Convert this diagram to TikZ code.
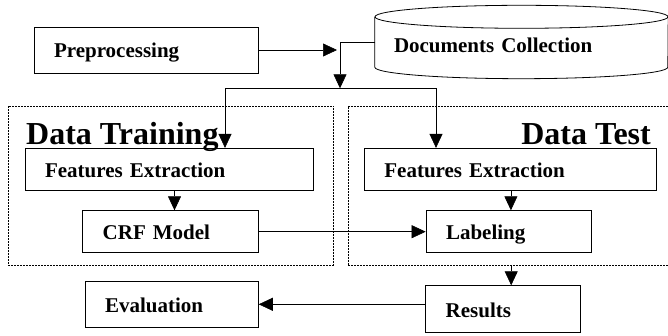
\documentclass[tikz,border=0pt]{standalone}
\usepackage{fontspec}
\setmainfont{Liberation Serif}
\usetikzlibrary{arrows.meta}
\usetikzlibrary{positioning}
\usetikzlibrary{calc}

\tikzset{
	procbox/.style={draw,line width=0.8pt,inner xsep=20pt,inner ysep=0pt,align=left,text height=16pt,text depth=0pt,font=\fontsize{21}{24}\selectfont\bfseries},
	docbox/.style={inner xsep=19pt,inner ysep=0pt,align=left,text width=255pt,minimum height=50pt,text height=22pt,text depth=0pt,font=\fontsize{21}{24}\selectfont\bfseries},
	groupframe/.style={draw,dash pattern=on 2pt off 1pt,line width=0.7pt,minimum height=159pt,inner sep=0pt},
	bigtitle/.style={font=\fontsize{32}{36}\selectfont\bfseries,inner sep=0pt},
	conn/.style={-{Triangle[length=14pt,width=13pt]},line width=0.6pt},
	plain/.style={line width=0.6pt}
}

\begin{document}
\begin{tikzpicture}[x=1pt,y=-1pt]
	\useasboundingbox (0,0) rectangle (668,336);

	% top row
	\node[procbox,text width=184pt,minimum height=46pt] (pre) at (146,50) {Preprocessing};
	\node[docbox] (docs) at (521.5,42) {Documents Collection};
	\draw[line width=0.8pt] (docs.north) ellipse [x radius=146.5, y radius=11.5];
	\draw[line width=0.8pt] (docs.north west) -- (docs.south west) arc[start angle=180, end angle=0, x radius=146.5, y radius=11.5] -- (docs.north east);

	% dashed groups
	\node[groupframe,minimum width=325.3pt] (trainframe) at (170.65,185.5) {};
	\node[groupframe,minimum width=328pt] (testframe) at (512,185.5) {};
	\node[bigtitle,anchor=base west] (traintitle) at (26,145) {Data Training};
	\node[bigtitle,anchor=base east] (testtitle) at (651,145) {Data Test};

	% inner boxes
	\node[procbox,text width=248pt,minimum height=42.4pt] (fetrain) at (169,169.5) {Features Extraction};
	\node[procbox,text width=135.6pt,minimum height=42pt] (crf) at (170.5,231.7) {CRF Model};
	\node[procbox,text width=251.7pt,minimum height=42.4pt] (fetest) at (510.2,169.5) {Features Extraction};
	\node[procbox,text width=125.7pt,minimum height=42pt] (labeling) at (508.9,231.7) {Labeling};

	% bottom row
	\node[procbox,text width=133.3pt,minimum height=46.7pt] (eval) at (171.7,304.3) {Evaluation};
	\node[procbox,text width=115pt,minimum height=46.6pt] (res) at (503.2,309) {Results};

	% helper points
	\coordinate (preend) at (337,50);
	\coordinate (split) at (340,88.3);
	\coordinate (splitl) at (225,88.3);
	\coordinate (splitr) at (436,88.3);
	\coordinate (crfin) at ([xshift=4pt]crf.north);
	\coordinate (labin) at ([xshift=2pt]labeling.north);
	\coordinate (resin) at ([xshift=8pt]res.north);

	% connectors
	\draw[conn] (pre.east) -- (preend);
	\draw[conn] (docs.west) -| (split);
	\draw[plain] (splitl) -- (splitr);
	\draw[conn] (splitl) -- (splitl |- fetrain.north);
	\draw[conn] (splitr) -- (splitr |- fetest.north);
	\draw[conn] (crfin |- fetrain.south) -- (crfin);
	\draw[conn] (labin |- fetest.south) -- (labin);
	\draw[conn] (crf.east) -- (crf.east -| labeling.west);
	\draw[conn] (resin |- testframe.south) -- (resin);
	\draw[conn] (eval.east -| res.west) -- (eval.east);
\end{tikzpicture}
\end{document}
